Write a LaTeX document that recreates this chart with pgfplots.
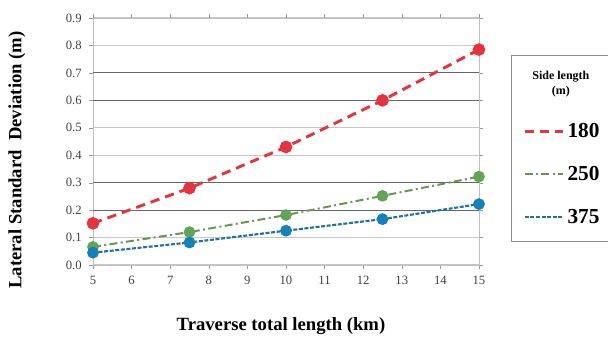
\documentclass[border=0pt]{standalone}
\usepackage{pgfplots}
\pgfplotsset{compat=1.18}
\usepackage{fontspec}
\setmainfont{Liberation Serif}
\definecolor{cred}{RGB}{228,52,62}
\definecolor{cgreen}{RGB}{105,150,80}
\definecolor{cgreenm}{RGB}{100,165,85}
\definecolor{cblue}{RGB}{30,115,160}
\definecolor{cbluem}{RGB}{20,130,185}
\begin{document}
\begin{tikzpicture}
\path[use as bounding box] (-69.75pt,-54.75pt) rectangle (386.25pt,198.75pt);
\begin{axis}[
  scale only axis,
  width=289.5pt, height=185.25pt,
  xmin=5, xmax=15, ymin=0, ymax=0.9,
  xtick={5,6,...,15},
  ytick={0,0.1,...,0.9},
  yticklabel style={/pgf/number format/fixed,/pgf/number format/fixed zerofill,/pgf/number format/precision=1, xshift=-2pt},
  xticklabel style={yshift=-2pt},
  /pgf/number format/assume math mode=true,
  tick label style={font=\fontsize{9.5}{11}\selectfont, color=black!75},
  axis line style={black!25},
  tick style={black!40},
  tick align=outside,
  major tick length=3pt,
  ymajorgrids,
  grid style={black!22, line width=0.8pt},
  extra y ticks={0.2,0.3,0.6,0.7},
  extra y tick labels={},
  extra y tick style={grid style={black!60, line width=0.8pt}, major tick length=0pt},
  xlabel={\bfseries Traverse total length (km)},
  ylabel={\bfseries Lateral Standard\ \ Deviation (m)},
  label style={font=\fontsize{14}{16}\selectfont},
  xlabel style={at={(axis description cs:0.487,0)}, anchor=center, yshift=-46pt},
  ylabel style={at={(axis description cs:-0.197,0.425)}, anchor=center},
  legend style={at={(rel axis cs:1.083,0.85)}, anchor=north west, draw=black!45,
    font=\bfseries\fontsize{16}{18}\selectfont, row sep=16pt,
    inner xsep=9pt, inner ysep=10pt},
  legend cell align=left,
  legend image code/.code={\draw[#1] (0pt,0pt) -- (29pt,0pt);},
  clip=false,
]
\addlegendimage{empty legend}
\addlegendentry{\hspace{-38pt}\makebox[66pt][c]{\shortstack{\fontsize{9}{10}\selectfont Side length\\\fontsize{9}{10}\selectfont(m)\rule[-7pt]{0pt}{0pt}}}}
\addlegendimage{cred, line width=2.2pt, dash pattern=on 7pt off 4.5pt}
\addlegendentry{180}
\addlegendimage{cgreen, line width=1.5pt, dash pattern=on 6pt off 2.5pt on 1.5pt off 2.5pt}
\addlegendentry{250}
\addlegendimage{cblue, line width=1.6pt, dash pattern=on 3pt off 1.2pt}
\addlegendentry{375\rule[-21pt]{0pt}{0pt}}
\addplot[forget plot, cred, line width=2.2pt, dash pattern=on 7pt off 4.5pt, mark=*, mark size=3.6pt, mark options={solid, fill=cred, draw=cred}]
  coordinates {(5,0.152) (7.5,0.280) (10,0.430) (12.5,0.600) (15,0.785)};
\addplot[forget plot, cgreen, line width=1.5pt, dash pattern=on 6pt off 2.5pt on 1.5pt off 2.5pt, mark=*, mark size=3.6pt, mark options={solid, fill=cgreenm, draw=cgreenm}]
  coordinates {(5,0.066) (7.5,0.120) (10,0.182) (12.5,0.252) (15,0.322)};
\addplot[forget plot, cblue, line width=1.6pt, dash pattern=on 3pt off 1.2pt, mark=*, mark size=3.6pt, mark options={solid, fill=cbluem, draw=cbluem}]
  coordinates {(5,0.045) (7.5,0.082) (10,0.125) (12.5,0.167) (15,0.222)};
\end{axis}
\end{tikzpicture}
\end{document}
